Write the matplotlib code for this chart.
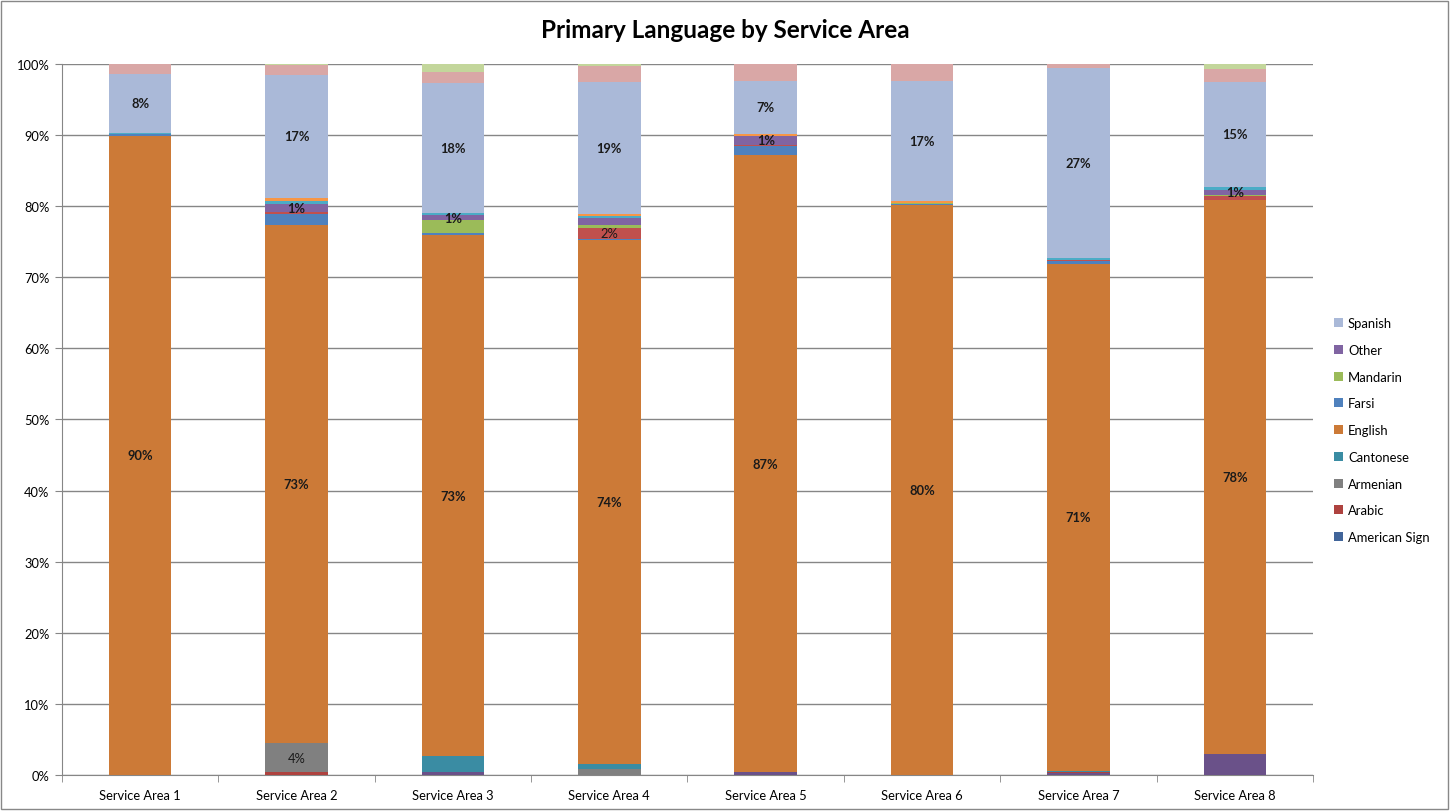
import numpy as np
import matplotlib.pyplot as plt
from matplotlib.patches import Patch, Rectangle

plt.rcParams['font.family'] = ['Lato', 'DejaVu Sans']

areas = ['Service Area 1', 'Service Area 2', 'Service Area 3', 'Service Area 4',
         'Service Area 5', 'Service Area 6', 'Service Area 7', 'Service Area 8']

# shares in percent, listed bottom of the stack first
extra_1 = [0, 0, 0.4, 0, 0.4, 0, 0.3, 3.0]
american_sign = [0, 0, 0, 0, 0, 0, 0, 0]
arabic = [0, 0.4, 0, 0, 0, 0, 0.1, 0]
armenian = [0, 4.1, 0, 0.9, 0, 0, 0, 0]
cantonese = [0, 0, 2.3, 0.6, 0, 0, 0.2, 0]
english = [89.9, 72.8, 73.2, 73.7, 86.8, 80.1, 71.3, 77.9]
farsi = [0.2, 1.6, 0.3, 0.2, 1.3, 0.2, 0.4, 0]
extra_2 = [0, 0.3, 0, 1.6, 0.1, 0, 0.2, 0.5]
mandarin = [0, 0, 1.8, 0.3, 0, 0.2, 0, 0.2]
other = [0, 1.1, 0.8, 1.0, 1.3, 0, 0, 0.7]
extra_3 = [0.2, 0.4, 0.2, 0.3, 0, 0, 0.2, 0.4]
extra_4 = [0, 0.5, 0, 0.3, 0.3, 0.2, 0, 0]
spanish = [8.3, 17.2, 18.3, 18.6, 7.4, 16.9, 26.7, 14.8]
extra_5 = [1.4, 1.5, 1.6, 2.2, 2.4, 2.4, 0.6, 1.8]
extra_6 = [0, 0.1, 1.1, 0.3, 0, 0, 0, 0.7]

# (name, values, colour)
series = [
    ('extra_1', extra_1, '#6A5189'),
    ('American Sign', american_sign, '#41659A'),
    ('Arabic', arabic, '#AE423F'),
    ('Armenian', armenian, '#808080'),
    ('Cantonese', cantonese, '#3A8CA3'),
    ('English', english, '#CC7A37'),
    ('Farsi', farsi, '#4F81BD'),
    ('extra_2', extra_2, '#C0504D'),
    ('Mandarin', mandarin, '#9BBB59'),
    ('Other', other, '#8064A2'),
    ('extra_3', extra_3, '#4BACC6'),
    ('extra_4', extra_4, '#F79646'),
    ('Spanish', spanish, '#AAB9D8'),
    ('extra_5', extra_5, '#D9A7A6'),
    ('extra_6', extra_6, '#C3D69B'),
]

# which segments carry a value label: name -> (area indices, bold)
labelled = {
    'English': (range(8), True),
    'Spanish': (range(8), True),
    'Other': ([1, 2, 4, 7], True),
    'Armenian': ([1], False),
    'extra_2': ([3], False),
}

fig = plt.figure(figsize=(14.51, 8.12), dpi=100)
fig.patches.append(Rectangle((0.001, 0.002), 0.997, 0.996, transform=fig.transFigure,
                             fill=False, edgecolor='#888888', linewidth=1))
ax = fig.add_axes([0.0427, 0.0443, 0.8622, 0.8757])

x = np.arange(len(areas))
totals = np.sum([np.array(s[1], dtype=float) for s in series], axis=0)
bottom = np.zeros(len(areas))
for name, vals, color in series:
    share = np.array(vals, dtype=float) / totals
    ax.bar(x, share, 0.4, bottom=bottom, color=color, linewidth=0, zorder=3)
    if name in labelled:
        idx, bold = labelled[name]
        for i in idx:
            ax.text(x[i], bottom[i] + share[i] / 2, f'{vals[i]:.0f}%', ha='center', va='center',
                    fontsize=9.3, fontweight='bold' if bold else 'normal', color='#1a1a1a', zorder=4)
    bottom += share

ax.set_xlim(-0.5, len(areas) - 0.5)
ax.set_ylim(0, 1)
ax.set_yticks(np.arange(0, 1.01, 0.1))
ax.set_yticklabels([f'{v}%' for v in range(0, 101, 10)])
ax.set_xticks(x)
ax.set_xticklabels(areas)
ax.set_xticks(np.arange(-0.5, len(areas)), minor=True)
ax.tick_params(axis='x', which='major', length=0, pad=10, labelsize=9.3)
ax.tick_params(axis='x', which='minor', length=5, color='#868686')
ax.tick_params(axis='y', length=5, color='#868686', labelsize=9.3, pad=4)
ax.yaxis.grid(True, color='#868686', linewidth=1, zorder=0)
for side in ['top', 'right']:
    ax.spines[side].set_visible(False)
for side in ['left', 'bottom']:
    ax.spines[side].set_color('#868686')

fig.suptitle('Primary Language by Service Area', x=0.5, y=0.962, va='center',
             fontsize=17.5, fontweight='bold')

legend_order = ['Spanish', 'Other', 'Mandarin', 'Farsi', 'English', 'Cantonese',
                'Armenian', 'Arabic', 'American Sign']
colors = {s[0]: s[2] for s in series}
leg_handles = [Patch(facecolor=colors[n], edgecolor='none') for n in legend_order]
fig.legend(leg_handles, legend_order, loc='center left', bbox_to_anchor=(0.911, 0.469),
           frameon=False, fontsize=9.4, handlelength=0.7, handleheight=0.7,
           handletextpad=0.4, labelspacing=1.13)

fig.savefig('out.png', dpi=100)
